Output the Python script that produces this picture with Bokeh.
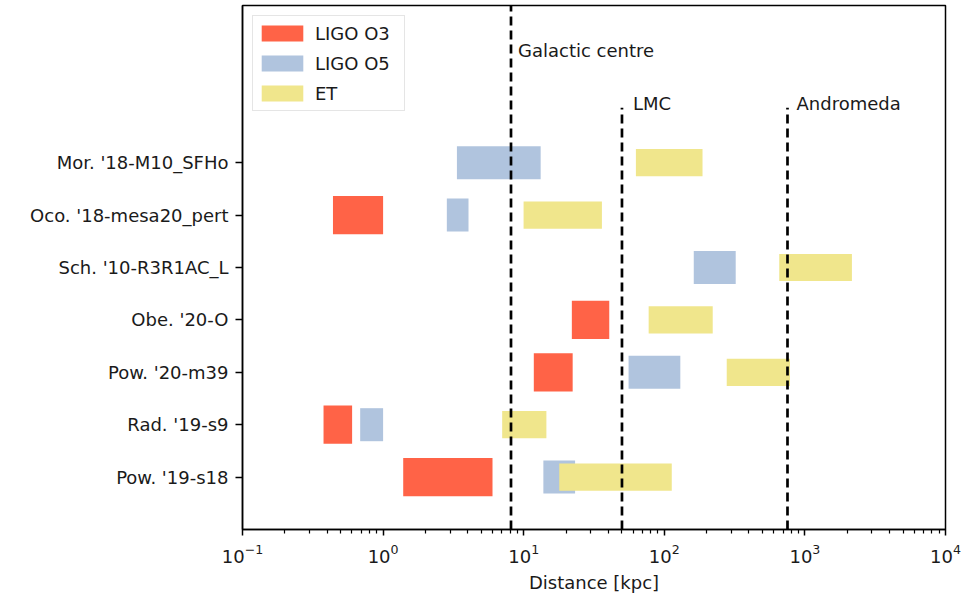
from bokeh.plotting import figure
from bokeh.models import ColumnDataSource, FixedTicker, Legend, LegendItem
from bokeh.core.properties import value
from bokeh.embed import file_html
from bokeh.resources import INLINE

# Supernova models, listed top to bottom
models = [
    "Mor. '18-M10_SFHo",
    "Oco. '18-mesa20_pert",
    "Sch. '10-R3R1AC_L",
    "Obe. '20-O",
    "Pow. '20-m39",
    "Rad. '19-s9",
    "Pow. '19-s18",
]

# Detection distance ranges [kpc] per detector (None = no range)
o3_lo = [None, 0.44, None, 22.0, 11.8, 0.377, 1.39]
o3_hi = [None, 1.0, None, 40.6, 22.3, 0.602, 6.0]
o5_lo = [3.35, 2.84, 162.0, None, 55.7, 0.687, 13.8]
o5_hi = [13.2, 4.05, 322.0, None, 130.0, 1.0, 23.2]
et_lo = [62.8, 9.98, 657.0, 77.4, 278.0, 7.03, 17.9]
et_hi = [187.0, 36.0, 2160.0, 221.0, 783.0, 14.5, 113.0]

detectors = ["LIGO O3", "LIGO O5", "ET"]

# Reference distances [kpc]
landmarks = ["Galactic centre", "LMC", "Andromeda"]
landmark_dist = [8.122, 50.0, 752.0]

# ---- styling ----
FONT = "DejaVu Sans"
colors = ["tomato", "lightsteelblue", "khaki"]
bar_heights = [0.73, 0.63, 0.52]
line_tops = [9.0, 7.05, 7.05]     # top end of each dashed line (data y)
text_y = [8.0, 7.0, 7.0]          # baseline of the landmark labels
text_dx = [7, 11, 9]              # pixel gap between line and label

n = len(models)
rows = [n - 1 - i for i in range(n)]

p = figure(
    width=963, height=600,
    x_axis_type="log", x_range=(0.1, 1e4), y_range=(-1, 9),
    output_backend="svg", toolbar_location=None,
    min_border_left=242, min_border_right=18,
    min_border_top=5, min_border_bottom=71,
    background_fill_color="white", border_fill_color="white",
)
p.xgrid.visible = False
p.ygrid.visible = False
p.outline_line_color = "black"
p.outline_line_width = 1.5
p.outline_line_alpha = 1.0

renderers = []
for lo, hi, color, h in zip([o3_lo, o5_lo, et_lo], [o3_hi, o5_hi, et_hi], colors, bar_heights):
    left, right, bottom, top = [], [], [], []
    for r, a, b in zip(rows, lo, hi):
        if a is None or b is None:
            continue
        left.append(a)
        right.append(b)
        bottom.append(r - h / 2)
        top.append(r + h / 2)
    src = ColumnDataSource(dict(left=left, right=right, bottom=bottom, top=top))
    rr = p.quad(left="left", right="right", bottom="bottom", top="top", source=src,
                fill_color=color, line_color=None)
    renderers.append(rr)

# dashed landmark lines and their labels
p.segment(x0=landmark_dist, y0=[-1] * len(landmark_dist), x1=landmark_dist, y1=line_tops,
          line_color="black", line_width=2.7, line_dash="9 5")
lab_src = ColumnDataSource(dict(x=landmark_dist, y=text_y, text=landmarks, dx=text_dx))
p.text(x="x", y="y", text="text", x_offset="dx", y_offset=-7, source=lab_src,
       text_font=value(FONT), text_font_size="18px", text_color="#1a1a1a",
       text_baseline="alphabetic", text_align="left")

# x axis (log)
xa = p.xaxis[0]
xa.ticker = FixedTicker(
    ticks=[0.1, 1, 10, 100, 1000, 10000],
    minor_ticks=[m * 10.0 ** e for e in range(-1, 4) for m in range(2, 10)],
)
xa.axis_label = "Distance [kpc]"
xa.axis_label_text_font = FONT
xa.axis_label_text_font_size = "18px"
xa.axis_label_text_font_style = "normal"
xa.axis_label_text_color = "#1a1a1a"
xa.axis_label_standoff = 6
xa.major_label_text_font = FONT
xa.major_label_text_font_size = "18px"
xa.major_label_text_color = "#1a1a1a"
xa.major_label_standoff = 8
xa.axis_line_width = 1.5
xa.major_tick_line_width = 1.5
xa.major_tick_in = 0
xa.major_tick_out = 6
xa.minor_tick_line_width = 1.2
xa.minor_tick_in = 0
xa.minor_tick_out = 4

# y axis (models)
ya = p.yaxis[0]
ya.ticker = FixedTicker(ticks=rows)
ya.major_label_overrides = {r: m for r, m in zip(rows, models)}
ya.major_label_text_font = FONT
ya.major_label_text_font_size = "18px"
ya.major_label_text_color = "#1a1a1a"
ya.major_label_standoff = 7
ya.axis_line_width = 1.5
ya.major_tick_line_width = 1.5
ya.major_tick_in = 0
ya.major_tick_out = 7
ya.minor_tick_line_color = None

legend = Legend(
    items=[LegendItem(label=d, renderers=[r]) for d, r in zip(detectors, renderers)],
    location="top_left",
    margin=10, padding=3, spacing=2,
    glyph_width=52, glyph_height=20, label_height=28, label_width=86,
    label_standoff=7,
    label_text_font=FONT, label_text_font_size="18px", label_text_color="#1a1a1a",
    border_line_color="#cccccc", border_line_width=1,
    background_fill_color="white", background_fill_alpha=0.8,
)
p.add_layout(legend)

open("out.html", "w").write(file_html(p, INLINE))
